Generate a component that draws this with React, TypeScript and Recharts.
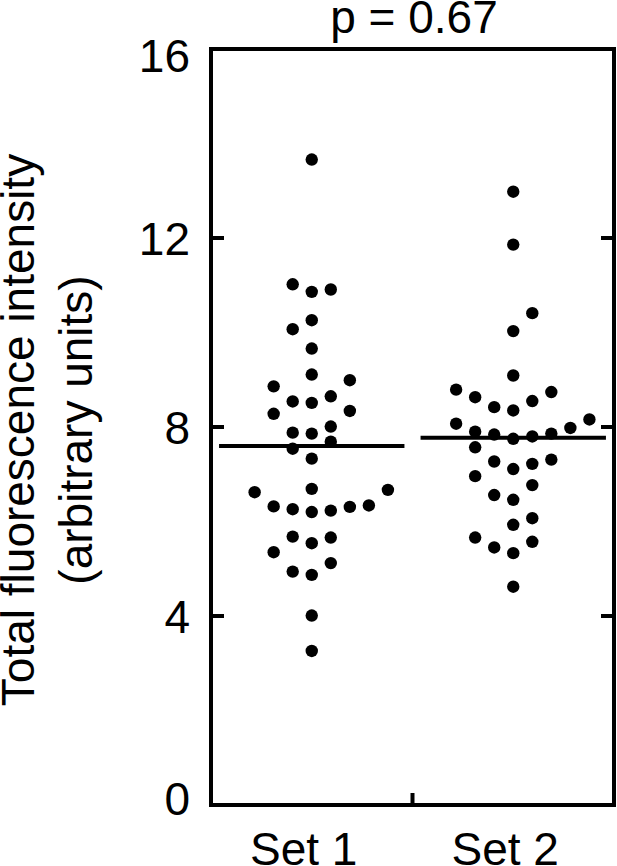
import React from 'react';
import { ScatterChart, Scatter, XAxis, YAxis, ReferenceLine } from 'recharts';

// ---- data ----
const categories = ['Set 1', 'Set 2'];
const set1Values = [
  13.66, 11.02, 10.86, 10.91, 10.26, 10.07, 9.66, 9.11, 8.86, 8.99,
  8.54, 8.51, 8.65, 8.28, 8.34, 7.88, 7.86, 8.01, 7.69, 7.54,
  7.33, 6.62, 6.69, 6.67, 6.32, 6.26, 6.2, 6.23, 6.31, 6.34,
  5.68, 5.54, 5.66, 5.35, 4.94, 4.87, 5.12, 4.01, 3.26,
];
const set1Slots = [
  0, -1, 0, 1, 0, -1, 0, 0, -2, 2,
  -1, 0, 1, -2, 2, -1, 0, 1, 1, -1,
  0, -3, 0, 4, -2, -1, 0, 1, 2, 3,
  -1, 0, 1, -2, -1, 0, 1, 0, 0,
];
const set2Values = [
  12.98, 11.86, 10.41, 10.03, 9.09, 8.79, 8.63, 8.42, 8.35, 8.55,
  8.74, 8.07, 7.9, 7.84, 7.75, 7.8, 7.86, 7.98, 8.16, 7.57,
  7.27, 7.11, 7.22, 7.31, 6.96, 6.77, 6.56, 6.46, 6.07, 5.93,
  5.66, 5.45, 5.33, 5.57, 4.62,
];
const set2Slots = [
  0, 0, 1, 0, 0, -3, -2, -1, 0, 1,
  2, -3, -2, -1, 0, 1, 2, 3, 4, -2,
  -1, 0, 1, 2, -2, 1, -1, 0, 1, 0,
  -2, -1, 0, 1, 0,
];
const means = [7.6, 7.77];
const yTicks = [0, 4, 8, 12, 16];
const innerYTicks = [4, 8, 12];
const pValueLabel = 'p = 0.67';
const yLabelLines = ['Total fluorescence intensity', '(arbitrary units)'];

// ---- layout / style ----
const SLOT = 0.189;
const HALF_LINE = 0.92;
const FONT = '"Liberation Sans", Arial, Helvetica, sans-serif';
const FS = 46;
const TICK_LEN = 13;
const STROKE = 4;

const catPos = (i: number) => 2 * i + 1;
const toPoints = (vals: number[], slots: number[], ci: number) =>
  vals.map((v, i) => ({ x: catPos(ci) + slots[i] * SLOT, y: v }));

const set1Points = toPoints(set1Values, set1Slots, 0);
const set2Points = toPoints(set2Values, set2Slots, 1);

const Dot = (props: any) => {
  const { cx, cy } = props;
  if (cx == null || cy == null) return null;
  return <circle cx={cx} cy={cy} r={6.2} fill="#000" />;
};

const LeftTick = (props: any) => {
  const { x, y, payload } = props;
  const v = payload.value;
  let dy = 0;
  if (v === 0) dy = -7;
  if (v === 16) dy = 6.5;
  return (
    <g>
      {v !== 0 && v !== 16 && (
        <line x1={x} x2={x + TICK_LEN} y1={y} y2={y} stroke="#000" strokeWidth={STROKE} />
      )}
      <text
        x={x - 21}
        y={y + dy}
        dy="0.36em"
        textAnchor="end"
        fontFamily={FONT}
        fontSize={FS}
        fill="#000"
      >
        {v}
      </text>
    </g>
  );
};

const RightTick = (props: any) => {
  const { x, y } = props;
  return <line x1={x} x2={x - TICK_LEN} y1={y} y2={y} stroke="#000" strokeWidth={STROKE} />;
};

const BottomTick = (props: any) => {
  const { x, y, payload } = props;
  const v = payload.value;
  if (v === 2) {
    return <line x1={x} x2={x} y1={y} y2={y - 12} stroke="#000" strokeWidth={STROKE} />;
  }
  const idx = (v - 1) / 2;
  return (
    <text
      x={x - 8}
      y={y + 60}
      textAnchor="middle"
      fontFamily={FONT}
      fontSize={FS}
      fill="#000"
    >
      {categories[idx]}
    </text>
  );
};

const TopTick = (props: any) => {
  const { x, y } = props;
  return <line x1={x} x2={x} y1={y} y2={y + TICK_LEN} stroke="#000" strokeWidth={STROKE} />;
};

const PLabel = (props: any) => {
  const vb = props.viewBox || {};
  const cx = (vb.x || 0) + (vb.width || 0) / 2 + 1.5;
  return (
    <text x={cx} y={33} textAnchor="middle" fontFamily={FONT} fontSize={FS} fill="#000">
      {pValueLabel}
    </text>
  );
};

const YLabel = (props: any) => {
  const vb = props.viewBox || {};
  const cy = (vb.y || 0) + (vb.height || 0) / 2 + 3;
  return (
    <g>
      <text
        transform={`translate(34, ${cy}) rotate(-90)`}
        textAnchor="middle"
        fontFamily={FONT}
        fontSize={FS}
        fill="#000"
      >
        {yLabelLines[0]}
      </text>
      <text
        transform={`translate(92, ${cy}) rotate(-90)`}
        textAnchor="middle"
        fontFamily={FONT}
        fontSize={FS}
        fill="#000"
      >
        {yLabelLines[1]}
      </text>
    </g>
  );
};

const axisLine = { stroke: '#000', strokeWidth: STROKE, strokeLinecap: 'square' as const };

export default function App() {
  return (
    <div style={{ position: 'absolute', left: 0, top: 0, width: 617, height: 866, background: '#fff' }}>
      <ScatterChart width={617} height={866} margin={{ top: 0, right: 0, bottom: 0, left: 0 }}>
        <XAxis
          xAxisId="b"
          type="number"
          dataKey="x"
          domain={[0, 4]}
          ticks={[1, 2, 3]}
          allowDataOverflow
          orientation="bottom"
          height={61}
          tickSize={0}
          tickMargin={0}
          tickLine={false}
          axisLine={axisLine}
          tick={<BottomTick />}
          interval={0}
        />
        <XAxis
          xAxisId="t"
          type="number"
          domain={[0, 4]}
          ticks={[2]}
          allowDataOverflow
          orientation="top"
          height={49}
          tickSize={0}
          tickMargin={0}
          tickLine={false}
          axisLine={axisLine}
          tick={<TopTick />}
          label={{ value: pValueLabel, content: <PLabel /> }}
        />
        <YAxis
          yAxisId="l"
          type="number"
          dataKey="y"
          domain={[0, 16]}
          ticks={yTicks}
          allowDataOverflow
          orientation="left"
          width={211}
          tickSize={0}
          tickMargin={0}
          tickLine={false}
          axisLine={axisLine}
          tick={<LeftTick />}
          interval={0}
          label={{ value: yLabelLines[0], content: <YLabel /> }}
        />
        <YAxis
          yAxisId="r"
          type="number"
          domain={[0, 16]}
          ticks={innerYTicks}
          allowDataOverflow
          orientation="right"
          width={3}
          tickSize={0}
          tickMargin={0}
          tickLine={false}
          axisLine={axisLine}
          tick={<RightTick />}
          interval={0}
        />
        <Scatter
          name={categories[0]}
          data={set1Points}
          xAxisId="b"
          yAxisId="l"
          shape={<Dot />}
          isAnimationActive={false}
        />
        <Scatter
          name={categories[1]}
          data={set2Points}
          xAxisId="b"
          yAxisId="l"
          shape={<Dot />}
          isAnimationActive={false}
        />
        {means.map((m, i) => (
          <ReferenceLine
            key={i}
            xAxisId="b"
            yAxisId="l"
            segment={[
              { x: catPos(i) - HALF_LINE, y: m },
              { x: catPos(i) + HALF_LINE, y: m },
            ]}
            stroke="#000"
            strokeWidth={4}
            ifOverflow="visible"
          />
        ))}
      </ScatterChart>
    </div>
  );
}
